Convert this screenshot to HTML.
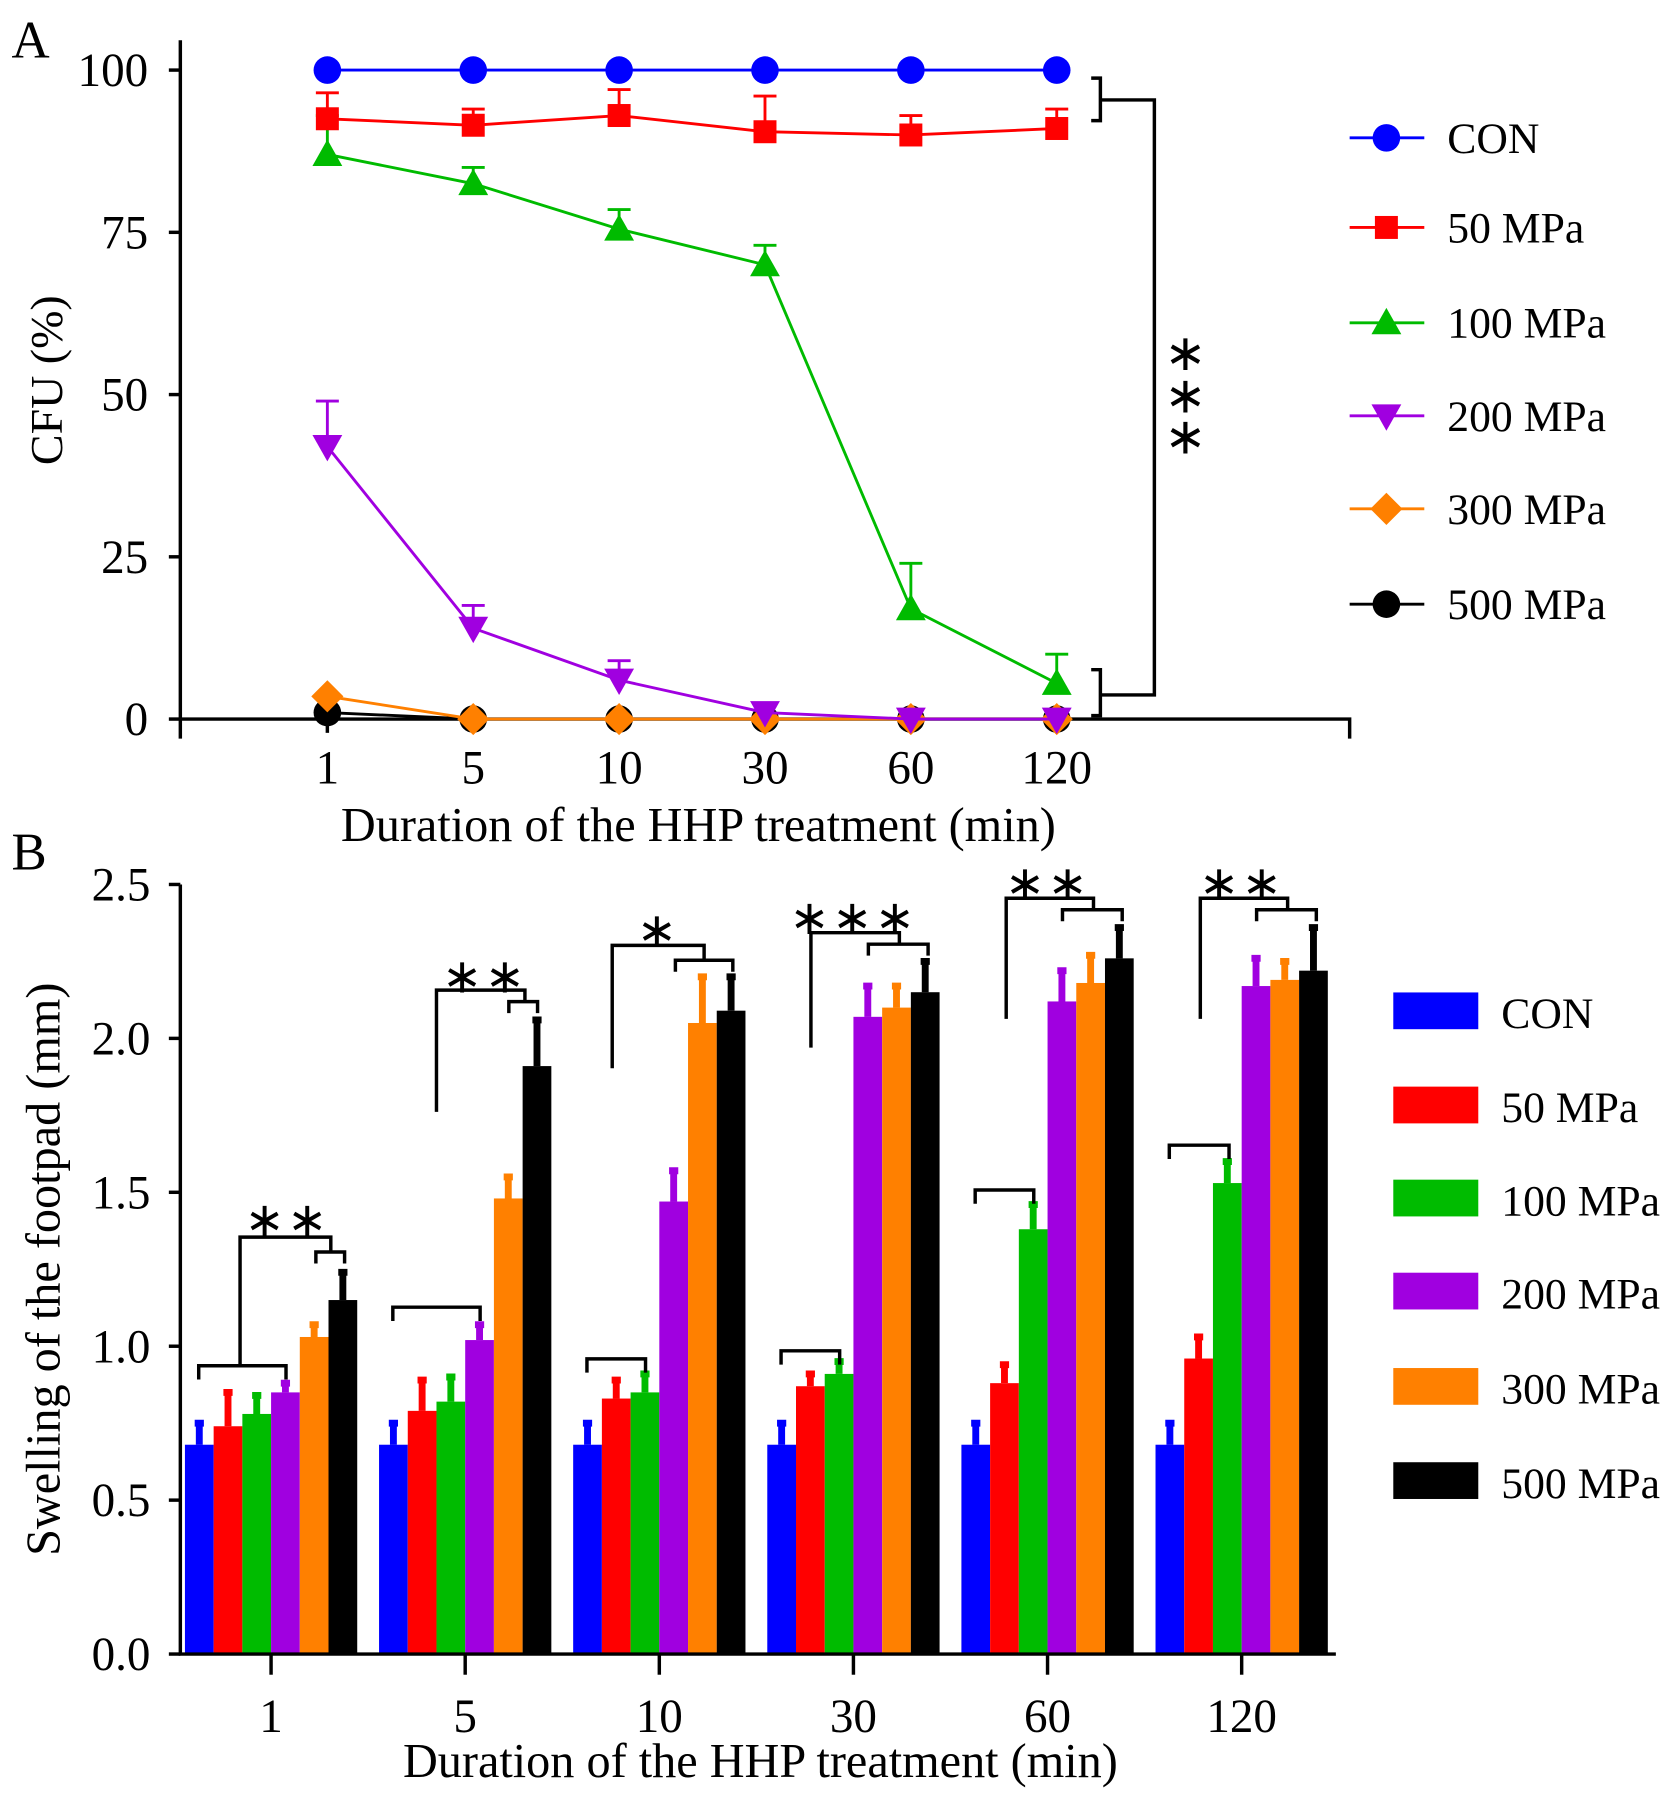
<!DOCTYPE html>
<html><head><meta charset="utf-8"><style>
html,body{margin:0;padding:0;background:#fff;}
svg{display:block;font-family:"Liberation Serif",serif;}
</style></head><body>
<svg id="fig" width="1677" height="1805" viewBox="0 0 1460 1571.4" xmlns="http://www.w3.org/2000/svg">
<g id="A"></g>
<g id="B"></g>
</svg>
<script>
// ---------- Panel A data ----------
const catsA = ["1","5","10","30","60","120"];
const seriesNamesA = ["CON","50 MPa","100 MPa","200 MPa","300 MPa","500 MPa"];
const conA = [100,100,100,100,100,100];
const mpa50A = [92.5,91.5,93,90.5,90,91];
const mpa50Err = [4,2.5,4,5.5,3,3];
const mpa100A = [87,82.5,75.5,70,17,5.5];
const mpa100Err = [6,2.5,3,3,7,4.5];
const mpa200A = [42,14,6,1,0,0];
const mpa200Err = [7,3.5,3,1,1,1];
const mpa300A = [3.5,0,0,0,0,0];
const mpa500A = [1,0,0,0,0,0];
const yTicksA = [0,25,50,75,100];

// ---------- Panel B data ----------
const catsB = ["1","5","10","30","60","120"];
const seriesNamesB = ["CON","50 MPa","100 MPa","200 MPa","300 MPa","500 MPa"];
const conB = [0.68,0.68,0.68,0.68,0.68,0.68];
const conBErr = [0.07,0.07,0.07,0.07,0.07,0.07];
const mpa50B = [0.74,0.79,0.83,0.87,0.88,0.96];
const mpa50BErr = [0.11,0.10,0.06,0.04,0.06,0.07];
const mpa100B = [0.78,0.82,0.85,0.91,1.38,1.53];
const mpa100BErr = [0.06,0.08,0.06,0.04,0.08,0.07];
const mpa200B = [0.85,1.02,1.47,2.07,2.12,2.17];
const mpa200BErr = [0.03,0.05,0.10,0.10,0.10,0.09];
const mpa300B = [1.03,1.48,2.05,2.10,2.18,2.19];
const mpa300BErr = [0.04,0.07,0.15,0.07,0.09,0.06];
const mpa500B = [1.15,1.91,2.09,2.15,2.26,2.22];
const mpa500BErr = [0.09,0.15,0.11,0.10,0.10,0.14];
const yTicksB = [0.0,0.5,1.0,1.5,2.0,2.5];

const NS="http://www.w3.org/2000/svg";
function mk(parent,tag,attrs,text){const e=document.createElementNS(NS,tag);for(const k in attrs)e.setAttribute(k,attrs[k]);if(text!==undefined)e.textContent=text;parent.appendChild(e);return e;}
const colors=["#0000ff","#ff0000","#00bb00","#a000e0","#ff8000","#000000"];
const TF=41, TT=42, LF=38;

// ===== Panel A =====
const A=document.getElementById('A');
const axL=157, y0=626, y100=61;
const xA=i=>285+i*127;
const yA=v=>y0-(v/100)*(y0-y100);
let t=mk(A,'text',{x:10,y:50,'font-size':46});t.textContent='A';


let ax=mk(A,'path',{d:`M${axL},35 V643 M${axL},${y0} H1175 V643`,stroke:'#000','stroke-width':3,fill:'none'});


yTicksA.forEach(v=>{
  mk(A,'line',{x1:axL-10,x2:axL,y1:yA(v),y2:yA(v),stroke:'#000','stroke-width':3});
  const tl=mk(A,'text',{x:axL-28,y:yA(v)+14,'font-size':TF,'text-anchor':'end'},String(v));
  
  
});
catsA.forEach((c,i)=>{
  mk(A,'line',{x1:xA(i),x2:xA(i),y1:y0,y2:y0+12,stroke:'#000','stroke-width':3});
  const tl=mk(A,'text',{x:xA(i),y:682,'font-size':TF,'text-anchor':'middle'},c);
  
  
});
t=mk(A,'text',{x:608,y:732,'font-size':TT,'text-anchor':'middle'},'Duration of the HHP treatment (min)');


t=mk(A,'text',{x:0,y:0,'font-size':40,'text-anchor':'middle','xml:space':'preserve',transform:'translate(54,331) rotate(-90)'},'CFU  (%)');



function marker(g,type,x,y,col){
  if(type==='circle')return mk(g,'circle',{cx:x,cy:y,r:12,fill:col});
  if(type==='square')return mk(g,'rect',{x:x-10,y:y-10,width:20,height:20,fill:col});
  if(type==='tri')return mk(g,'polygon',{points:`${x},${y-13} ${x+13},${y+10} ${x-13},${y+10}`,fill:col});
  if(type==='itri')return mk(g,'polygon',{points:`${x},${y+13} ${x+13},${y-10} ${x-13},${y-10}`,fill:col});
  if(type==='dia')return mk(g,'polygon',{points:`${x},${y-14} ${x+14},${y} ${x},${y+14} ${x-14},${y}`,fill:col});
}
const seriesA=[[conA,null,'circle'],[mpa50A,mpa50Err,'square'],[mpa100A,mpa100Err,'tri'],[mpa200A,mpa200Err,'itri'],[mpa300A,null,'dia'],[mpa500A,null,'circle']];
for(let s=seriesA.length-1;s>=0;s--){
  const [vals,errs,type]=seriesA[s];const col=colors[s];
  const g=mk(A,'g',{});
  
  
  const ln=mk(g,'polyline',{points:vals.map((v,i)=>xA(i)+','+yA(v)).join(' '),fill:'none',stroke:col,'stroke-width':2.5});
  
  
  vals.forEach((v,i)=>{
    if(errs){const yt=yA(v+errs[i]);mk(g,'path',{d:`M${xA(i)},${yA(v)} V${yt} M${xA(i)-10},${yt} H${xA(i)+10}`,stroke:col,'stroke-width':2.5,fill:'none'});}
    const m=marker(g,type,xA(i),yA(v),col);
    
    
  });
}
let br=mk(A,'path',{d:'M950,68 H958 V105 H950 M958,87 H1005 V605 H958 M950,583 H958 V623 H950',stroke:'#000','stroke-width':3,fill:'none'});


['300','337','373'].forEach(y=>{const s=mk(A,'text',{x:1032,y:+y+22,'font-size':44,'text-anchor':'middle'},'∗');

});
const legYA=[120,198,281,362,443,526];
const legTypes=['circle','square','tri','itri','dia','circle'];
seriesNamesA.forEach((n,i)=>{
  const g=mk(A,'g',{});
  
  
  mk(g,'line',{x1:1175,x2:1240,y1:legYA[i],y2:legYA[i],stroke:colors[i],'stroke-width':2.5});
  marker(g,legTypes[i],1207,legYA[i],colors[i]);
  mk(g,'text',{x:1260,y:legYA[i]+13,'font-size':LF},n);
});

// ===== Panel B =====
const B=document.getElementById('B');
const bL=157,by0=1440,by25=770;
const yB=v=>by0-(v/2.5)*(by0-by25);
const cB=i=>236+i*169;
const bw=25;
t=mk(B,'text',{x:10,y:757,'font-size':46},'B');


yTicksB.forEach(v=>{
  mk(B,'line',{x1:bL-10,x2:bL,y1:yB(v),y2:yB(v),stroke:'#000','stroke-width':3});
  const tl=mk(B,'text',{x:bL-26,y:yB(v)+14,'font-size':TF,'text-anchor':'end'},v.toFixed(1));
  
  
});
const seriesB=[[conB,conBErr],[mpa50B,mpa50BErr],[mpa100B,mpa100BErr],[mpa200B,mpa200BErr],[mpa300B,mpa300BErr],[mpa500B,mpa500BErr]];
catsB.forEach((c,i)=>{
  seriesB.forEach(([vals,errs],s)=>{
    const x=cB(i)-75+s*bw;
    const r=mk(B,'rect',{x:x,y:yB(vals[i]),width:bw,height:by0-yB(vals[i]),fill:colors[s]});
    
    
    const xc=x+bw/2, yt=yB(vals[i]+errs[i]);
    mk(B,'path',{d:`M${xc},${yB(vals[i])} V${yt} M${xc-4},${yt} H${xc+4}`,stroke:colors[s],'stroke-width':6,fill:'none'});
  });
  mk(B,'line',{x1:cB(i),x2:cB(i),y1:by0,y2:by0+18,stroke:'#000','stroke-width':3});
  const tl=mk(B,'text',{x:cB(i),y:1508,'font-size':TF,'text-anchor':'middle'},c);
  
  
});
ax=mk(B,'path',{d:`M${bL},770 V${by0} H1163`,stroke:'#000','stroke-width':3,fill:'none'});


t=mk(B,'text',{x:662,y:1547,'font-size':TT,'text-anchor':'middle'},'Duration of the HHP treatment (min)');


t=mk(B,'text',{x:0,y:0,'font-size':TT,'text-anchor':'middle',transform:'translate(52,1105) rotate(-90)'},'Swelling of the footpad (mm)');


// brackets
const brk=[
 [173,249,1189,209,288,1077,1189,275,300,1090,'∗∗',250,1060],
 [342,418,1138,380,457,862,968,443,468,872,'∗∗',422,848],
 [511,562,1183,533,613,823,930,588,638,836,'∗',573,808],
 [680,731,1176,706,783,812,912,756,808,822,'∗∗∗',743,797],
 [849,900,1036,876,952,782,887,925,977,792,'∗∗',912,767],
 [1018,1070,997,1045,1121,782,887,1094,1146,792,'∗∗',1081,767]];
brk.forEach(b=>{
  const [lx1,lx2,ly,bx1,bx2,by,bl,sx1,sx2,sy,st,tx,ty]=b;
  const p=mk(B,'path',{d:`M${lx1},${ly+12} V${ly} H${lx2} V${ly+12} M${bx1},${bl} V${by} H${bx2} V${sy} M${sx1},${sy+10} V${sy} H${sx2} V${sy+10}`,stroke:'#000','stroke-width':3,fill:'none'});
  
  
  const s=mk(B,'text',{x:tx,y:ty+16,'font-size':42,'text-anchor':'middle','letter-spacing':'2'},st);
  
  
});
const legYB=[880,962,1043,1124,1207,1289];
seriesNamesB.forEach((n,i)=>{
  const g=mk(B,'g',{});
  
  
  mk(g,'rect',{x:1213,y:legYB[i]-16,width:74,height:32,fill:colors[i]});
  mk(g,'text',{x:1307,y:legYB[i]+15,'font-size':LF},n);
});
</script>
</body></html>
